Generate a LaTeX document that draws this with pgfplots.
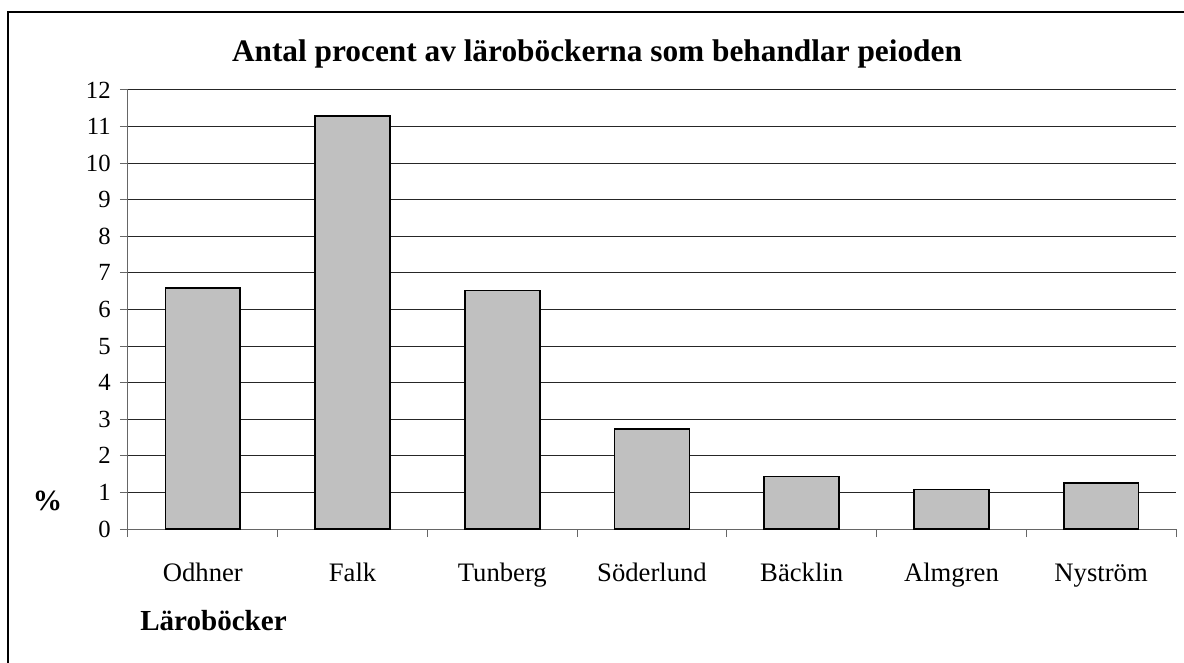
\documentclass[border=0pt]{standalone}
\usepackage{fontspec}
\setmainfont{Liberation Serif}
\usepackage{pgfplots}
\pgfplotsset{compat=1.18}
\definecolor{barfill}{RGB}{192,192,192}
\begin{document}
\begin{tikzpicture}
\begin{axis}[
  at={(0pt,0pt)}, anchor=south west,
  scale only axis, width=786pt, height=329.25pt,
  xmin=0.5, xmax=7.5, ymin=0, ymax=12,
  axis x line*=bottom, axis y line*=left,
  axis line style={black!60, line width=0.75pt},
  tick style={black!60, line width=0.75pt},
  tick align=outside, major tick length=6pt,
  ytick={0,1,...,12},
  ymajorgrids, grid style={black!85, line width=0.75pt},
  /pgf/number format/assume math mode=true,
  yticklabel style={font=\fontsize{18.5}{18.5}\selectfont, xshift=-3.5pt},
  xtick={0.5,1.5,...,7.5},
  xticklabels={,,,,,,,},
  extra x ticks={1,2,3,4,5,6,7},
  extra x tick labels={Odhner,Falk,Tunberg,Söderlund,Bäcklin,Almgren,Nyström},
  extra x tick style={major tick length=0pt, grid=none,
    xticklabel style={font=\fontsize{20}{20}\selectfont, anchor=base, yshift=-39.5pt}},
]
\addplot[ybar, bar width=0.5, fill=barfill, draw=black, line width=1.2pt]
  coordinates {(1,6.59) (2,11.29) (3,6.52) (4,2.74) (5,1.43) (6,1.08) (7,1.25)};
\end{axis}
\node[font=\fontsize{23.5}{23.5}\selectfont\bfseries, anchor=base] at (351.75pt,350.25pt) {Antal procent av läroböckerna som behandlar peioden};
\node[font=\fontsize{22}{22}\selectfont\bfseries] at (-60.4pt,21pt) {\%};
\node[font=\fontsize{21.8}{21.8}\selectfont\bfseries, anchor=base west, inner sep=0pt] at (9pt,-75.75pt) {Läroböcker};
\draw[line width=1pt] (800pt,387.75pt) -- (-90pt,387.75pt) -- (-90pt,-120pt);
\pgfresetboundingbox
\useasboundingbox (-96pt,-100.5pt) rectangle (792pt,396.75pt);
\end{tikzpicture}
\end{document}
